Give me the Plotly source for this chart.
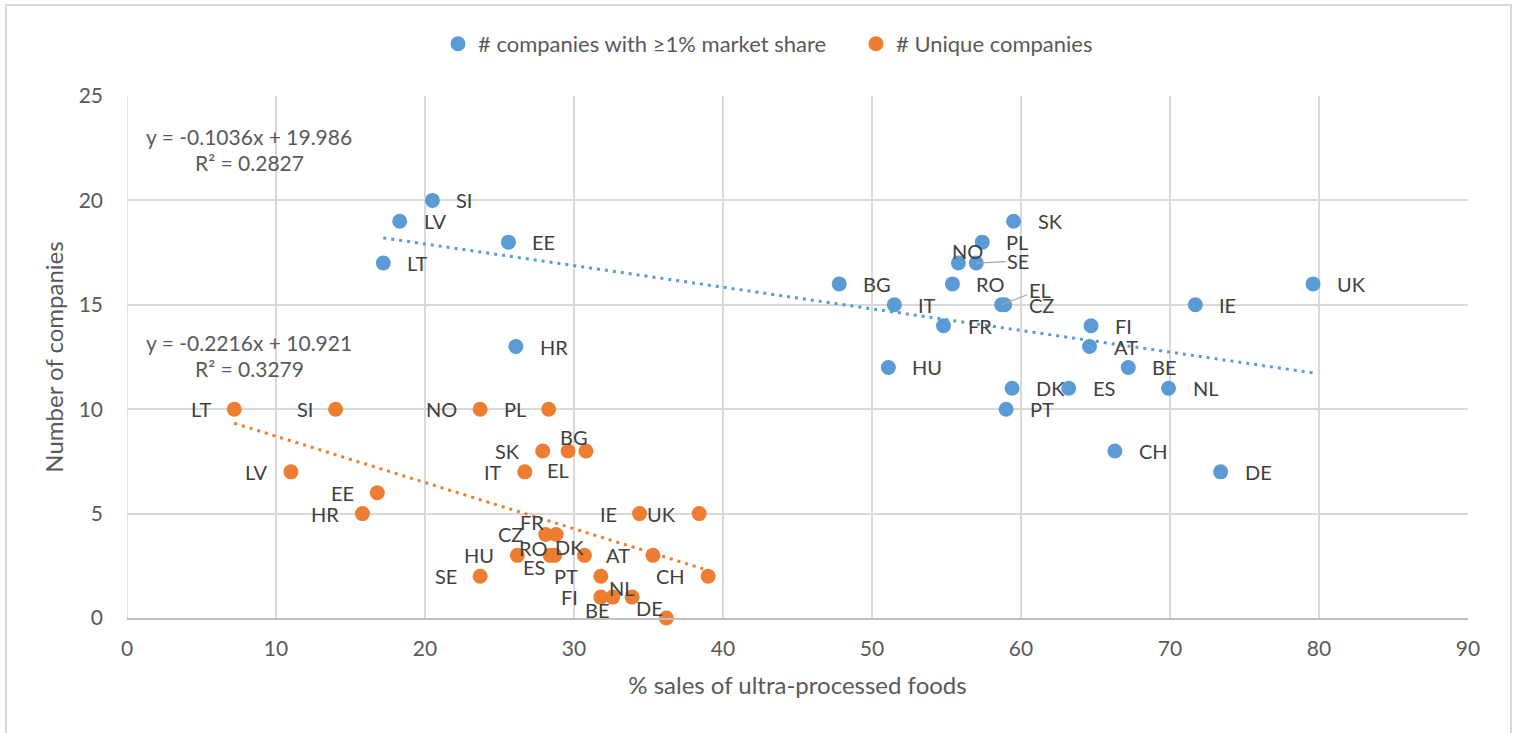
import plotly.graph_objects as go

# ---------------- data ----------------
blue_countries = ["SI", "LV", "EE", "LT", "HR", "BG", "IT", "HU", "FR", "RO", "NO", "SE", "PL", "SK",
                  "EL", "CZ", "DK", "PT", "ES", "FI", "AT", "BE", "NL", "IE", "UK", "CH", "DE"]
blue_x = [20.5, 18.3, 25.6, 17.2, 26.1, 47.8, 51.5, 51.1, 54.8, 55.4, 55.8, 57.0, 57.4, 59.5,
          58.7, 58.9, 59.4, 59.0, 63.2, 64.7, 64.6, 67.2, 69.9, 71.7, 79.6, 66.3, 73.4]
blue_y = [20, 19, 18, 17, 13, 16, 15, 12, 14, 16, 17, 17, 18, 19,
          15, 15, 11, 10, 11, 14, 13, 12, 11, 15, 16, 8, 7]

orange_countries = ["LT", "SI", "NO", "PL", "LV", "EE", "HR", "SK", "EL", "BG", "IT", "IE", "UK",
                    "CZ", "FR", "HU", "RO", "ES", "DK", "AT", "SE", "PT", "CH", "FI", "BE", "NL", "DE"]
orange_x = [7.2, 14.0, 23.7, 28.3, 11.0, 16.8, 15.8, 27.9, 29.6, 30.8, 26.7, 34.4, 38.4,
            28.1, 28.8, 26.2, 28.4, 28.7, 30.7, 35.3, 23.7, 31.8, 39.0, 31.8, 32.6, 33.9, 36.2]
orange_y = [10, 10, 10, 10, 7, 6, 5, 8, 8, 8, 7, 5, 5,
            4, 4, 3, 3, 3, 3, 3, 2, 2, 2, 1, 1, 1, 0]

series_names = ["# companies with ≥1% market share", "# Unique companies"]
trend_slope = [-0.1036, -0.2216]
trend_intercept = [19.986, 10.921]
trend_r2 = [0.2827, 0.3279]

x_title = "% sales of ultra-processed foods"
y_title = "Number of companies"

# ---------------- styles ----------------
BLUE = "#5B9BD5"
ORANGE = "#ED7D31"
FONT = "Lato"
TXT = "#595959"
LBL = "#404040"
FS_TICK = 21
FS_LBL = 20
FS_LEG = 22
FS_TITLE = 24
FS_EQ = 21

# label placement (pixel offsets); default: blue right of point, orange left of point
blue_label_special = {
    "NO": ("center", 9, -12),
}
blue_label_leader = {
    "SE": (42, -2),
    "EL": (38, -15),
}
orange_label_special = {
    "BG": ("center", -12, -14),
    "EL": ("center", -10, 19),
    "FR": ("center", -24, -12),
    "RO": ("center", -17, -7),
    "ES": ("center", -21, 12),
    "DK": ("center", -15, -8),
    "BE": ("center", -16, 13),
    "NL": ("center", -10, -9),
    "DE": ("center", -17, -10),
}

fig = go.Figure()

# trendlines
for i, (xs, col) in enumerate([(blue_x, BLUE), (orange_x, ORANGE)]):
    x0, x1 = min(xs), max(xs)
    fig.add_trace(go.Scatter(
        x=[x0, x1],
        y=[trend_slope[i] * x0 + trend_intercept[i], trend_slope[i] * x1 + trend_intercept[i]],
        mode="lines", line=dict(color=col, width=3, dash="3px,5px"),
        showlegend=False, hoverinfo="skip"))

fig.add_trace(go.Scatter(x=blue_x, y=blue_y, mode="markers", name=series_names[0],
                         marker=dict(color=BLUE, size=15), cliponaxis=False, text=blue_countries))
fig.add_trace(go.Scatter(x=orange_x, y=orange_y, mode="markers", name=series_names[1],
                         marker=dict(color=ORANGE, size=15), cliponaxis=False, text=orange_countries))

annotations = []
for c, x, y in zip(blue_countries, blue_x, blue_y):
    if c in blue_label_leader:
        ax, ay = blue_label_leader[c]
        annotations.append(dict(x=x, y=y, text=c, showarrow=True, ax=ax, ay=ay, arrowhead=0,
                                arrowwidth=1.2, arrowcolor="#A6A6A6", standoff=0,
                                font=dict(family=FONT, size=FS_LBL, color=LBL)))
        continue
    anc, dx, dy = blue_label_special.get(c, ("left", 22, 0))
    annotations.append(dict(x=x, y=y, text=c, showarrow=False, xanchor=anc, yanchor="middle",
                            xshift=dx, yshift=-dy, font=dict(family=FONT, size=FS_LBL, color=LBL)))
for c, x, y in zip(orange_countries, orange_x, orange_y):
    anc, dx, dy = orange_label_special.get(c, ("right", -21, 0))
    annotations.append(dict(x=x, y=y, text=c, showarrow=False, xanchor=anc, yanchor="middle",
                            xshift=dx, yshift=-dy, font=dict(family=FONT, size=FS_LBL, color=LBL)))

# trendline equations
eq_pos = [(8.2, 23.05, 21.8), (8.2, 13.2, 11.95)]
for i in range(2):
    sign = "-" if trend_slope[i] < 0 else ""
    eq = f"y = {sign}{abs(trend_slope[i]):.4f}x + {trend_intercept[i]:.3f}"
    r2 = f"R² = {trend_r2[i]:.4f}"
    px, py1, py2 = eq_pos[i]
    annotations.append(dict(x=px, y=py1, text=eq, showarrow=False, xanchor="center", yanchor="middle",
                            font=dict(family=FONT, size=FS_EQ, color=TXT)))
    annotations.append(dict(x=px, y=py2, text=r2, showarrow=False, xanchor="center", yanchor="middle",
                            font=dict(family=FONT, size=FS_EQ, color=TXT)))

W, H = 1513, 733
L, R, T, B = 127, 45, 96, 115
pw, ph = W - L - R, H - T - B

def px2paper_x(p):
    return (p - L) / pw

def px2paper_y(p):
    return (H - B - p) / ph

fig.update_layout(
    width=W, height=H,
    margin=dict(l=L, r=R, t=T, b=B),
    paper_bgcolor="white", plot_bgcolor="white",
    font=dict(family=FONT, size=FS_TICK, color=TXT),
    annotations=annotations,
    legend=dict(orientation="h", x=px2paper_x(856), xanchor="center", y=px2paper_y(44), yanchor="middle",
                font=dict(family=FONT, size=FS_LEG, color=TXT), itemwidth=30, tracegroupgap=0,
                entrywidth=373),
    showlegend=True,
    shapes=[dict(type="rect", xref="paper", yref="paper",
                 x0=px2paper_x(6), x1=px2paper_x(1511), y0=px2paper_y(760), y1=px2paper_y(5),
                 line=dict(color="#D9D9D9", width=2), fillcolor="rgba(0,0,0,0)", layer="below")],
    xaxis=dict(range=[0, 90], dtick=10, showgrid=True, gridcolor="#D9D9D9", gridwidth=1.5,
               zeroline=False, showline=True, linecolor="#BFBFBF", linewidth=1.5,
               tickfont=dict(family=FONT, size=FS_TICK, color=TXT), ticks="", ticklabelstandoff=11,
               title=dict(text=x_title, font=dict(family=FONT, size=FS_TITLE, color=TXT), standoff=18)),
    yaxis=dict(range=[0, 25], dtick=5, showgrid=True, gridcolor="#D9D9D9", gridwidth=1.5,
               zeroline=False, showline=False, ticks="", ticklabelstandoff=23,
               tickfont=dict(family=FONT, size=FS_TICK, color=TXT),
               title=dict(text=y_title, font=dict(family=FONT, size=FS_TITLE, color=TXT), standoff=8)),
)
fig.add_shape(type="line", xref="x", yref="paper", x0=0, x1=0, y0=0, y1=1,
              line=dict(color="#D9D9D9", width=1.5), layer="below")

fig.write_html("out.html", config={"displayModeBar": False},
               post_script="document.body.style.margin='0px';")
